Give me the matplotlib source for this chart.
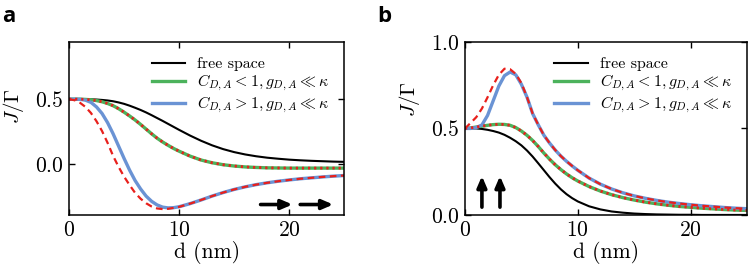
import matplotlib

matplotlib.use("Agg")

import matplotlib.pyplot as plt


# distance grid (nm), finer below 10 nm
D = [0, 0.5, 1, 1.5, 2, 2.5, 3, 3.5, 4, 4.5, 5, 5.5, 6, 6.5, 7, 7.5, 8, 8.5, 9, 9.5,
     10, 11, 12, 13, 14, 15, 16, 17, 18, 19, 20, 21, 22, 23, 24, 25]

# panel a: parallel dipoles
free_a = [0.5, 0.5, 0.5, 0.5, 0.499, 0.497, 0.494, 0.49, 0.484, 0.475, 0.464, 0.45,
          0.434, 0.417, 0.398, 0.377, 0.355, 0.333, 0.31, 0.287,
          0.264, 0.22, 0.18, 0.145, 0.116, 0.093, 0.075, 0.061, 0.05, 0.042,
          0.035, 0.03, 0.026, 0.023, 0.02, 0.018]
weak_a = [0.5, 0.5, 0.5, 0.498, 0.495, 0.489, 0.48, 0.467, 0.45, 0.427, 0.4, 0.371,
          0.34, 0.306, 0.27, 0.234, 0.2, 0.171, 0.145, 0.121,
          0.1, 0.062, 0.032, 0.011, -0.004, -0.014, -0.021, -0.025, -0.028, -0.029,
          -0.03, -0.03, -0.03, -0.03, -0.03, -0.03]
weak_a_model = weak_a
strong_a = [0.5, 0.5, 0.499, 0.492, 0.475, 0.44, 0.39, 0.32, 0.235, 0.14, 0.045, -0.045,
            -0.125, -0.19, -0.245, -0.285, -0.313, -0.33, -0.336, -0.334,
            -0.327, -0.303, -0.275, -0.245, -0.218, -0.194, -0.174, -0.157, -0.143, -0.131,
            -0.121, -0.112, -0.105, -0.098, -0.092, -0.087]
strong_a_model = [0.5, 0.492, 0.472, 0.44, 0.393, 0.33, 0.255, 0.165, 0.065, -0.02, -0.095, -0.16,
                  -0.22, -0.265, -0.3, -0.325, -0.34, -0.345, -0.343, -0.336,
                  -0.328, -0.303, -0.275, -0.245, -0.218, -0.194, -0.174, -0.157, -0.143, -0.131,
                  -0.121, -0.112, -0.105, -0.098, -0.092, -0.087]

# panel b: collinear dipoles
free_b = [0.5, 0.5, 0.5, 0.497, 0.492, 0.485, 0.476, 0.463, 0.446, 0.426, 0.402, 0.372,
          0.337, 0.298, 0.258, 0.218, 0.181, 0.148, 0.12, 0.097,
          0.078, 0.05, 0.032, 0.02, 0.013, 0.008, 0.005, 0.003, 0.002, 0.001,
          0.001, 0.0, 0.0, 0.0, 0.0, 0.0]
weak_b = [0.5, 0.503, 0.508, 0.513, 0.518, 0.522, 0.524, 0.523, 0.518, 0.505, 0.485, 0.46,
          0.43, 0.395, 0.357, 0.322, 0.29, 0.262, 0.237, 0.215,
          0.196, 0.164, 0.138, 0.117, 0.1, 0.086, 0.074, 0.064, 0.056, 0.049,
          0.044, 0.039, 0.035, 0.031, 0.028, 0.026]
weak_b_model = weak_b
strong_b = [0.5, 0.5, 0.505, 0.52, 0.575, 0.66, 0.745, 0.805, 0.826, 0.81, 0.755, 0.68,
            0.585, 0.52, 0.46, 0.415, 0.375, 0.34, 0.31, 0.283,
            0.258, 0.213, 0.178, 0.15, 0.128, 0.11, 0.096, 0.084, 0.074, 0.066,
            0.059, 0.053, 0.048, 0.043, 0.039, 0.036]
strong_b_model = [0.5, 0.532, 0.565, 0.615, 0.68, 0.75, 0.81, 0.845, 0.842, 0.815, 0.762, 0.68,
                  0.585, 0.52, 0.46, 0.415, 0.375, 0.34, 0.31, 0.283,
                  0.258, 0.213, 0.178, 0.15, 0.128, 0.11, 0.096, 0.084, 0.074, 0.066,
                  0.059, 0.053, 0.048, 0.043, 0.039, 0.036]

LABELS = ["free space",
          r"$C_{D,A} < 1, g_{D,A} \ll \kappa$",
          r"$C_{D,A} > 1, g_{D,A} \ll \kappa$"]

# dipole orientation arrows: (x_start, y_start, x_end, y_end) in data units
ARROWS_A = [(17.4, -0.31, 20.3, -0.31), (21.0, -0.31, 24.0, -0.31)]
ARROWS_B = [(1.5, 0.045, 1.5, 0.225), (3.1, 0.045, 3.1, 0.225)]

GREEN = "#4cb25c"
BLUE = "#6a93d4"
RED = "#e8201c"

plt.rcParams["font.family"] = "serif"
plt.rcParams["font.serif"] = ["cmr10"]
plt.rcParams["mathtext.fontset"] = "cm"
plt.rcParams["axes.formatter.use_mathtext"] = True
plt.rcParams["axes.unicode_minus"] = False


def draw_panel(ax, free, weak, weak_model, strong, strong_model, ylim, yticks, arrows,
               ylabel_xy):
    ax.plot(D, free, color="black", lw=1.5, label=LABELS[0])
    ax.plot(D, weak, color=GREEN, lw=2.4, label=LABELS[1])
    ax.plot(D, strong, color=BLUE, lw=2.4, label=LABELS[2])
    ax.plot(D, weak_model, color=RED, lw=2.0, linestyle=(0, (0.8, 1.4)))
    ax.plot(D, strong_model, color=RED, lw=1.6, linestyle=(0, (3.0, 2.0)))

    for x0, y0, x1, y1 in arrows:
        ax.annotate("", xy=(x1, y1), xytext=(x0, y0),
                    arrowprops=dict(arrowstyle="-|>,head_width=0.28,head_length=0.65",
                                    lw=2.6, color="black", shrinkA=0, shrinkB=0))

    ax.set_xlim(0, 25)
    ax.set_ylim(*ylim)
    ax.set_xticks([0, 10, 20])
    ax.set_yticks(yticks)
    ax.tick_params(direction="in", top=True, right=True, length=4, width=1.0,
                   labelsize=15.5, pad=4)
    for spine in ax.spines.values():
        spine.set_linewidth(1.1)
    ax.set_xlabel("d (nm)", fontsize=15.5, labelpad=1)
    ax.set_ylabel(r"$J/\Gamma$", fontsize=15)
    ax.yaxis.set_label_coords(*ylabel_xy)
    ax.legend(loc="upper right", frameon=False, fontsize=11.5, handlelength=2.1,
              handletextpad=0.75, labelspacing=0.1, borderaxespad=0.55)


fig = plt.figure(figsize=(7.5, 2.67), dpi=100)
ax_a = fig.add_axes([0.092, 0.195, 0.367, 0.648])
ax_b = fig.add_axes([0.620, 0.195, 0.376, 0.648])

draw_panel(ax_a, free_a, weak_a, weak_a_model, strong_a, strong_a_model,
           (-0.39, 0.94), [0.0, 0.5], ARROWS_A, (-0.155, 0.63))
draw_panel(ax_b, free_b, weak_b, weak_b_model, strong_b, strong_b_model,
           (0.0, 1.0), [0.0, 0.5, 1.0], ARROWS_B, (-0.152, 0.67))

fig.text(0.003, 0.918, "a", family="Open Sans", weight="bold", fontsize=16, va="baseline")
fig.text(0.503, 0.918, "b", family="Open Sans", weight="bold", fontsize=16, va="baseline")

fig.savefig("out.png", dpi=100)
